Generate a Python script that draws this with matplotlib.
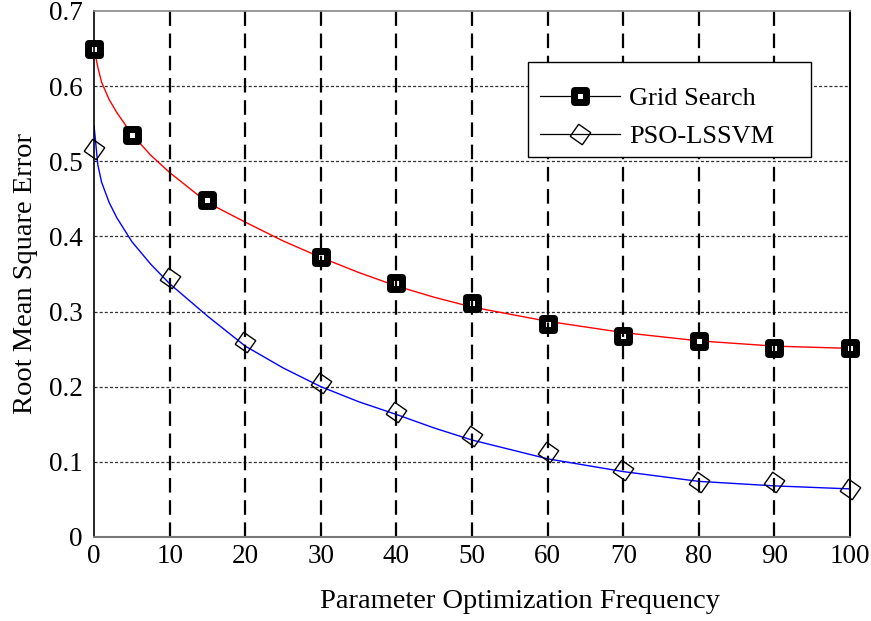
import matplotlib
matplotlib.use("Agg")
import matplotlib.pyplot as plt
from matplotlib.lines import Line2D
from matplotlib.markers import MarkerStyle
from matplotlib.patches import Rectangle

plt.rcParams['font.family'] = ['Liberation Serif', 'DejaVu Serif']
plt.rcParams['lines.scale_dashes'] = False

# marker data
gs_x = [0, 5, 15, 30, 40, 50, 60, 70, 80, 90, 100]
gs_y = [0.650, 0.535, 0.449, 0.373, 0.338, 0.311, 0.283, 0.268, 0.261, 0.251, 0.251]
pso_x = [0, 10, 20, 30, 40, 50, 60, 70, 80, 90, 100]
pso_y = [0.516, 0.344, 0.260, 0.205, 0.166, 0.135, 0.113, 0.089, 0.073, 0.073, 0.064]

# fitted curves
fit_x = [0, 0.5, 1, 2, 3, 5, 7.5, 10, 15, 20, 25, 30, 35, 40, 45, 50, 60, 70, 80, 90, 100]
gs_fit = [0.650, 0.625, 0.605, 0.582, 0.565, 0.536, 0.508, 0.485, 0.445, 0.419, 0.394,
          0.372, 0.352, 0.334, 0.319, 0.306, 0.287, 0.272, 0.261, 0.254, 0.251]
pso_fit = [0.547, 0.495, 0.472, 0.445, 0.425, 0.393, 0.363, 0.337, 0.294, 0.254, 0.225,
           0.200, 0.180, 0.163, 0.145, 0.129, 0.104, 0.087, 0.074, 0.068, 0.064]

xticks = [0, 10, 20, 30, 40, 50, 60, 70, 80, 90, 100]
yticks = [0, 0.1, 0.2, 0.3, 0.4, 0.5, 0.6, 0.7]
ytick_labels = ['0', '0.1', '0.2', '0.3', '0.4', '0.5', '0.6', '0.7']
series_names = ['Grid Search', 'PSO-LSSVM']

fig = plt.figure(figsize=(8.71, 6.21), dpi=100)
ax = fig.add_axes([0.108, 0.1353, 0.868, 0.847])

ax.set_xlim(0, 100)
ax.set_ylim(0, 0.7)

# horizontal fine dashed grid
for yv in yticks[1:-1]:
    ax.axhline(yv, color='#333333', lw=0.9, dashes=(2.2, 1.5), zorder=1)

# curves
ax.plot(fit_x, gs_fit, color='#ff0000', lw=1.0, zorder=2)
ax.plot(fit_x, pso_fit, color='#0000ff', lw=1.0, zorder=2)

# markers
gs_ms = MarkerStyle('s', joinstyle='round')
gs_marker = dict(marker=gs_ms, markersize=8, markeredgewidth=5, markerfacecolor='white',
                 markeredgecolor='black')
pso_marker = dict(marker=(4, 0, 10), markersize=15, markeredgewidth=1.0,
                  markerfacecolor='none', markeredgecolor='black')
ax.plot(gs_x, gs_y, linestyle='none', zorder=3, clip_on=False, **gs_marker)
ax.plot(pso_x, pso_y, linestyle='none', zorder=3, clip_on=False, **pso_marker)

# vertical thick dashed lines
for xv in xticks[1:-1]:
    ax.axvline(xv, color='black', lw=1.6, dashes=(10.5, 5.5), zorder=4)

ax.set_xticks(xticks)
ax.set_yticks(yticks)
ax.set_yticklabels(ytick_labels)
ax.tick_params(length=0, labelsize=19.5)
ax.tick_params(axis='y', pad=8)
ax.tick_params(axis='x', pad=5)

ax.spines['left'].set_color('black')
ax.spines['left'].set_linewidth(1.2)
ax.spines['right'].set_color('black')
ax.spines['right'].set_linewidth(1.5)
ax.spines['top'].set_color('#888888')
ax.spines['top'].set_linewidth(1.2)
ax.spines['bottom'].set_color('#777777')
ax.spines['bottom'].set_linewidth(1.5)
for s in ax.spines.values():
    s.set_zorder(5)

fig.text(520 / 871, 1 - 602 / 621, 'Parameter Optimization Frequency', fontsize=20.5,
         ha='center', va='center')
ax.set_ylabel('Root Mean Square Error', fontsize=20.5, labelpad=8)

# legend box
ax.add_patch(Rectangle((0.574, 0.722), 0.374, 0.181, transform=ax.transAxes,
                       facecolor='white', edgecolor='black', lw=1.0, zorder=6))
h1 = Line2D([], [], color='black', lw=0.9, **gs_marker)
h2 = Line2D([], [], color='black', lw=0.9, **pso_marker)
leg = ax.legend([h1, h2], series_names, loc='center left',
                bbox_to_anchor=(0.590, 0.7975), fontsize=19, frameon=False,
                handlelength=3.03, handletextpad=0.35, labelspacing=0.54,
                borderpad=0, borderaxespad=0)
leg.set_zorder(7)

fig.savefig('out.png', dpi=100)
